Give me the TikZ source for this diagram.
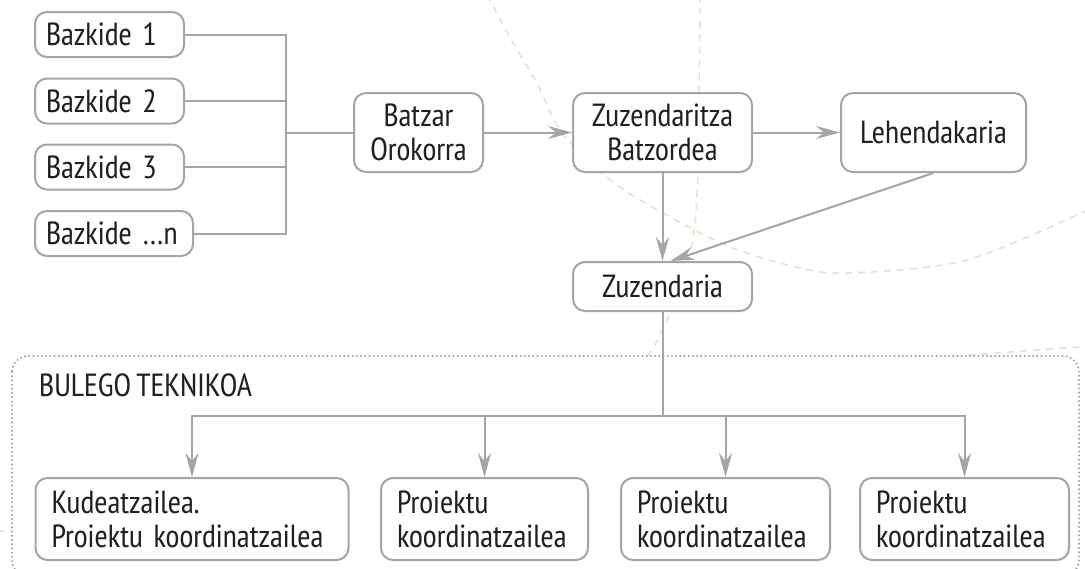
\documentclass[tikz,border=0pt]{standalone}
\usepackage{fontspec}
\setmainfont{PT Sans Narrow}[WordSpace=0.75]
\usetikzlibrary{arrows.meta}
\definecolor{linegray}{HTML}{A3A5A8}
\definecolor{dotgray}{HTML}{9C9EA1}
\definecolor{beige}{HTML}{E9E1CB}
\definecolor{ink}{HTML}{231F20}

\begin{document}
\begin{tikzpicture}[x=1pt,y=-1pt,
  link/.style={line width=2pt, linegray},
  arr/.style={link, -{Stealth[length=24pt,width=13pt,inset=8pt]}},
  deco/.style={line width=1.6pt, beige, dash pattern=on 7pt off 6pt}]
\useasboundingbox (0,0) rectangle (1085,568);

\draw[deco] plot[smooth] coordinates {(487,-5) (513,43) (537,83) (562,133) (610,180) (663,213) (730,247) (800,268) (850,273) (967,260) (1092,208)};
\draw[deco] plot[smooth] coordinates {(700,-5) (698,170) (692,243) (670,313) (640,365) (560,430) (400,480) (150,515) (-5,532)};
\draw[deco] plot[smooth] coordinates {(1092,346) (943,357) (850,365)};

\filldraw[fill=white, draw=dotgray, line width=2.2pt, line cap=round, dash pattern=on 0pt off 4.2pt, rounded corners=16pt] (12,356) rectangle (1079,576);
\node[text=ink, font={\fontsize{32}{34}\selectfont}, anchor=west, inner sep=0pt] (bt) at (39,385) {BULEGO TEKNIKOA};

\begin{scope}[every node/.style={draw=linegray, fill=white, line width=2pt, rounded corners=12pt, text=ink, font={\fontsize{32}{34}\selectfont}, inner ysep=0pt},
  bz/.style={align=left, inner xsep=11pt, minimum height=45pt},
  box/.style={align=center, inner xsep=0pt, minimum height=79pt},
  lbox/.style={align=left, inner xsep=16pt, minimum height=82pt}]
 \node[bz, text width=127pt] (b1) at (109.5,34.5) {Bazkide 1};
 \node[bz, text width=127pt] (b2) at (109.5,101) {Bazkide 2};
 \node[bz, text width=127pt] (b3) at (109.5,167) {Bazkide 3};
 \node[bz, text width=136pt] (bn) at (114,233.5) {Bazkide …n};

 \node[box, minimum width=129pt] (batzar) at (418.5,132.5) {Batzar\\Orokorra};
 \node[box, minimum width=179pt] (zb) at (662.5,132.5) {Zuzendaritza\\Batzordea};
 \node[box, minimum width=185pt] (lehen) at (933.5,132.5) {Lehendakaria};
 \node[box, minimum width=179pt, minimum height=49pt] (zuz) at (662.5,286.5) {Zuzendaria};

 \node[lbox, text width=281pt] (k) at (192,519) {Kudeatzailea.\\Proiektu koordinatzailea};
 \node[lbox, text width=175pt] (p1) at (484.5,519) {Proiektu\\koordinatzailea};
 \node[lbox, text width=177pt] (p2) at (725.5,519) {Proiektu\\koordinatzailea};
 \node[lbox, text width=177pt] (p3) at (964.5,519) {Proiektu\\koordinatzailea};
\end{scope}

\coordinate (j) at (286,0);
\coordinate (t) at (662.5,416);

\draw[link] (b1.east) -| (j |- bn.east) -- (bn.east);
\draw[link] (b2.east) -- (b2.east -| j);
\draw[link] (b3.east) -- (b3.east -| j);
\draw[link] (j |- batzar.west) -- (batzar.west);

\draw[arr] (batzar) -- (zb);
\draw[arr] (zb) -- (lehen);
\draw[arr] (zb) -- (zuz);
\draw[arr] (lehen.south) -- ([xshift=8pt]zuz.north);

\draw[link] (zuz.south) -- (t);
\foreach \n in {k,p1,p2,p3}
 \draw[arr] (t) -| (\n.north);

\end{tikzpicture}
\end{document}
